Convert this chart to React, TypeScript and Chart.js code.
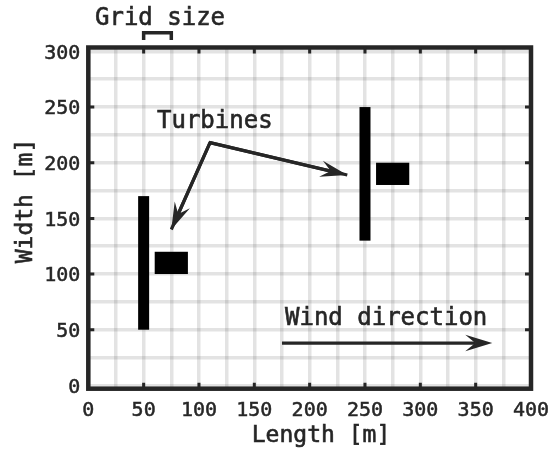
import React, { useEffect, useRef } from 'react';
import { Chart, registerables } from 'chart.js';

Chart.register(...registerables);

// ---- data ----
const xTicks = [0, 25, 50, 75, 100, 125, 150, 175, 200, 225, 250, 275, 300, 325, 350, 375, 400];
const yTicks = [0, 25, 50, 75, 100, 125, 150, 175, 200, 225, 250, 275, 300];
const xMajor = [50, 100, 150, 200, 250, 300, 350];
const yMajor = [50, 100, 150, 200, 250];

// turbines: tower line + nacelle block
const towerX = [50, 250];
const towerBottom = [50, 130];
const towerTop = [170, 250];
const nacelleLeft = [60, 260];
const nacelleRight = [90, 290];
const nacelleBottom = [100, 180];
const nacelleTop = [120, 200];

// annotation arrows
const pointerFromX = 110;
const pointerFromY = 218;
const pointerToX = [75, 234];
const pointerToY = [140, 189];
const windFromX = 175;
const windToX = 365;
const windY = 38;
const gridSizeFrom = 50;
const gridSizeTo = 75;

const FONT = "'DejaVu Sans Mono', monospace";
const INK = '#262626';

function arrowHead(ctx: CanvasRenderingContext2D, x0: number, y0: number, x1: number, y1: number) {
  const L = 27;
  const W = 8.3;
  const N = 17;
  const a = Math.atan2(y1 - y0, x1 - x0);
  const c = Math.cos(a);
  const s = Math.sin(a);
  const bx = x1 - L * c;
  const by = y1 - L * s;
  const nx = x1 - N * c;
  const ny = y1 - N * s;
  ctx.beginPath();
  ctx.moveTo(x0, y0);
  ctx.lineTo(nx, ny);
  ctx.stroke();
  ctx.beginPath();
  ctx.moveTo(x1, y1);
  ctx.lineTo(bx - W * s, by + W * c);
  ctx.lineTo(nx, ny);
  ctx.lineTo(bx + W * s, by - W * c);
  ctx.closePath();
  ctx.fill();
}

function heavyText(ctx: CanvasRenderingContext2D, t: string, x: number, y: number) {
  ctx.fillText(t, x, y);
  ctx.strokeText(t, x, y);
}

const overlay = {
  id: 'overlay',
  afterDraw(chart: any) {
    const ctx: CanvasRenderingContext2D = chart.ctx;
    const xs = chart.scales.x;
    const ys = chart.scales.y;
    const px = (v: number) => xs.getPixelForValue(v);
    const py = (v: number) => ys.getPixelForValue(v);
    const { left, right, top, bottom } = chart.chartArea;
    ctx.save();

    // turbines
    ctx.fillStyle = '#000';
    for (let i = 0; i < towerX.length; i++) {
      const t = py(towerTop[i]);
      const b = py(towerBottom[i]);
      ctx.fillRect(px(towerX[i]) - 5.5, t, 11, b - t);
      const nl = px(nacelleLeft[i]);
      const nr = px(nacelleRight[i]);
      const nt = py(nacelleTop[i]);
      const nb = py(nacelleBottom[i]);
      ctx.fillRect(nl, nt, nr - nl, nb - nt);
    }

    // frame
    ctx.strokeStyle = INK;
    ctx.lineWidth = 4.5;
    ctx.lineJoin = 'miter';
    ctx.strokeRect(left, top, right - left, bottom - top);

    // inward tick marks
    ctx.lineWidth = 3;
    ctx.beginPath();
    for (const v of xMajor) {
      const x = px(v);
      ctx.moveTo(x, bottom);
      ctx.lineTo(x, bottom - 6);
      ctx.moveTo(x, top);
      ctx.lineTo(x, top + 6);
    }
    for (const v of yMajor) {
      const y = py(v);
      ctx.moveTo(left, y);
      ctx.lineTo(left + 6, y);
      ctx.moveTo(right, y);
      ctx.lineTo(right - 6, y);
    }
    ctx.stroke();

    // arrows
    ctx.strokeStyle = INK;
    ctx.fillStyle = INK;
    ctx.lineWidth = 3.2;
    ctx.lineCap = 'butt';
    for (let i = 0; i < pointerToX.length; i++) {
      arrowHead(ctx, px(pointerFromX), py(pointerFromY), px(pointerToX[i]), py(pointerToY[i]));
    }
    ctx.beginPath();
    ctx.moveTo(px(pointerToX[0]), py(pointerToY[0]));
    ctx.lineTo(px(pointerFromX), py(pointerFromY));
    ctx.lineTo(px(pointerToX[1]), py(pointerToY[1]));
    ctx.lineJoin = 'miter';
    ctx.stroke();
    arrowHead(ctx, px(windFromX), py(windY), px(windToX), py(windY));

    // grid size bracket
    ctx.lineWidth = 3.5;
    ctx.beginPath();
    ctx.moveTo(px(gridSizeFrom), 40);
    ctx.lineTo(px(gridSizeFrom), 32.7);
    ctx.lineTo(px(gridSizeTo), 32.7);
    ctx.lineTo(px(gridSizeTo), 40);
    ctx.stroke();

    // texts
    ctx.fillStyle = INK;
    ctx.strokeStyle = INK;
    ctx.lineWidth = 0.6;
    ctx.textBaseline = 'alphabetic';
    ctx.textAlign = 'left';
    ctx.font = `24px ${FONT}`;
    heavyText(ctx, 'Grid size', 95, 25);
    heavyText(ctx, 'Turbines', 157, 128);
    heavyText(ctx, 'Wind direction', 285, 325);

    ctx.font = `23px ${FONT}`;
    ctx.textAlign = 'center';
    heavyText(ctx, 'Length [m]', 321, 442);
    ctx.translate(32, 201);
    ctx.rotate(-Math.PI / 2);
    heavyText(ctx, 'Width [m]', 0, 0);

    ctx.restore();
  },
};

export default function App() {
  const ref = useRef<HTMLCanvasElement | null>(null);
  useEffect(() => {
    const canvas = ref.current;
    if (!canvas) return;
    const tickFont = { family: FONT, size: 20 };
    const gridColor = 'rgba(0,0,0,0.11)';
    const chart = new Chart(canvas, {
      type: 'scatter',
      data: { datasets: [{ data: [] }] },
      options: {
        animation: false,
        responsive: false,
        devicePixelRatio: 1,
        layout: { padding: { top: 47.5, right: 23, left: 0, bottom: 0 } },
        plugins: { legend: { display: false }, tooltip: { enabled: false } },
        scales: {
          x: {
            type: 'linear',
            min: 0,
            max: 400,
            afterBuildTicks: (s: any) => {
              s.ticks = xTicks.map((v) => ({ value: v }));
            },
            afterFit: (s: any) => {
              s.height = 61.3;
              s.paddingLeft = 0;
              s.paddingRight = 0;
            },
            grid: { color: gridColor, lineWidth: 3.5, drawTicks: false },
            border: { display: false },
            ticks: {
              autoSkip: false,
              maxRotation: 0,
              padding: 10,
              color: INK,
              textStrokeColor: INK,
              textStrokeWidth: 0.5,
              font: tickFont,
              callback: (v: any) => (Number(v) % 50 === 0 ? String(v) : ''),
            },
          },
          y: {
            type: 'linear',
            min: -3,
            max: 303.5,
            afterBuildTicks: (s: any) => {
              s.ticks = yTicks.map((v) => ({ value: v }));
            },
            afterFit: (s: any) => {
              s.width = 88.3;
              s.paddingTop = 0;
              s.paddingBottom = 0;
            },
            grid: { color: gridColor, lineWidth: 3.5, drawTicks: false },
            border: { display: false },
            ticks: {
              autoSkip: false,
              padding: 8,
              labelOffset: 2,
              color: INK,
              textStrokeColor: INK,
              textStrokeWidth: 0.5,
              font: tickFont,
              callback: (v: any) => (Number(v) % 50 === 0 ? String(v) : ''),
            },
          },
        },
      },
      plugins: [overlay],
    });
    return () => chart.destroy();
  }, []);
  return (
    <div style={{ position: 'absolute', left: 0, top: 0, width: 554, height: 450, background: '#fff' }}>
      <canvas ref={ref} width={554} height={450} style={{ display: 'block', width: 554, height: 450 }} />
    </div>
  );
}
